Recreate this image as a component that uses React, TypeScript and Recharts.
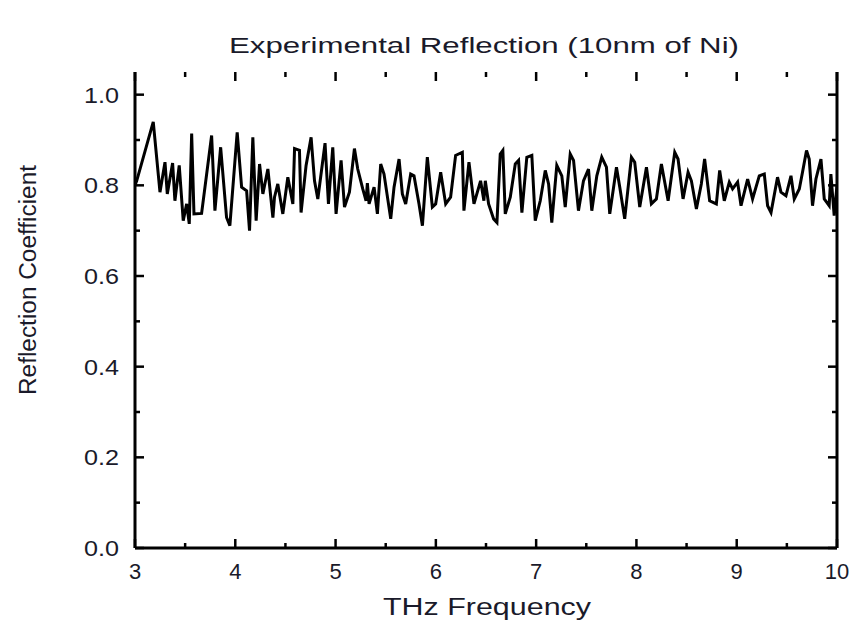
import React from "react";
import { LineChart, Line, XAxis, YAxis } from "recharts";

// turning points (THz, reflection coefficient)
const freq = [
  3.0, 3.017, 3.182, 3.249, 3.299, 3.322, 3.375, 3.398, 3.441, 3.481, 3.515, 3.541, 3.565, 3.588, 3.664,
  3.764, 3.797, 3.854, 3.913, 3.946, 4.019, 4.063, 4.113, 4.142, 4.175, 4.208, 4.242, 4.275, 4.325,
  4.375, 4.391, 4.424, 4.474, 4.524, 4.574, 4.591, 4.64, 4.656, 4.706, 4.756, 4.79, 4.823, 4.895,
  4.929, 4.972, 5.005, 5.055, 5.089, 5.138, 5.188, 5.221, 5.271, 5.304, 5.317, 5.334, 5.384, 5.417,
  5.45, 5.483, 5.55, 5.583, 5.633, 5.666, 5.699, 5.749, 5.782, 5.832, 5.866, 5.915, 5.965, 5.998,
  6.048, 6.098, 6.147, 6.197, 6.264, 6.28, 6.33, 6.38, 6.446, 6.479, 6.493, 6.526, 6.576, 6.609,
  6.642, 6.668, 6.692, 6.742, 6.792, 6.825, 6.858, 6.907, 6.957, 6.991, 7.041, 7.091, 7.124, 7.156,
  7.206, 7.256, 7.29, 7.34, 7.373, 7.422, 7.472, 7.522, 7.555, 7.605, 7.654, 7.701, 7.734, 7.801,
  7.834, 7.883, 7.95, 7.983, 8.033, 8.1, 8.149, 8.199, 8.249, 8.316, 8.382, 8.415, 8.465, 8.515,
  8.548, 8.598, 8.647, 8.68, 8.73, 8.797, 8.83, 8.876, 8.926, 8.959, 9.009, 9.043, 9.109, 9.158,
  9.225, 9.275, 9.308, 9.342, 9.407, 9.441, 9.491, 9.541, 9.574, 9.624, 9.656, 9.696, 9.723, 9.756,
  9.79, 9.84, 9.873, 9.922, 9.939, 9.972, 10.0,
];

const refl = [
  0.80, 0.81, 0.94, 0.785, 0.851, 0.781, 0.849, 0.766, 0.844, 0.722, 0.759, 0.715, 0.914, 0.737, 0.738,
  0.91, 0.744, 0.884, 0.729, 0.711, 0.917, 0.796, 0.788, 0.70, 0.906, 0.722, 0.847, 0.781, 0.836,
  0.729, 0.774, 0.803, 0.737, 0.818, 0.759, 0.881, 0.877, 0.74, 0.844, 0.906, 0.81, 0.77, 0.893,
  0.759, 0.884, 0.737, 0.855, 0.752, 0.785, 0.881, 0.836, 0.792, 0.766, 0.805, 0.759, 0.796, 0.737,
  0.847, 0.825, 0.726, 0.796, 0.858, 0.781, 0.759, 0.825, 0.821, 0.759, 0.711, 0.862, 0.752, 0.759,
  0.829, 0.759, 0.774, 0.866, 0.873, 0.744, 0.851, 0.759, 0.81, 0.766, 0.81, 0.759, 0.726, 0.718,
  0.869, 0.877, 0.737, 0.774, 0.847, 0.855, 0.74, 0.862, 0.866, 0.722, 0.766, 0.833, 0.803, 0.718,
  0.844, 0.821, 0.752, 0.869, 0.855, 0.744, 0.81, 0.836, 0.744, 0.821, 0.862, 0.84, 0.737, 0.84,
  0.796, 0.726, 0.862, 0.851, 0.752, 0.84, 0.759, 0.77, 0.847, 0.766, 0.873, 0.858, 0.77, 0.829,
  0.81, 0.748, 0.803, 0.858, 0.766, 0.759, 0.833, 0.766, 0.807, 0.792, 0.807, 0.755, 0.814, 0.77,
  0.821, 0.825, 0.755, 0.74, 0.818, 0.785, 0.777, 0.821, 0.77, 0.792, 0.829, 0.877, 0.858, 0.755,
  0.814, 0.858, 0.77, 0.755, 0.825, 0.733, 0.80,
];

const xTicks = [3, 3.5, 4, 4.5, 5, 5.5, 6, 6.5, 7, 7.5, 8, 8.5, 9, 9.5, 10];
const yTicks = [0, 0.1, 0.2, 0.3, 0.4, 0.5, 0.6, 0.7, 0.8, 0.9, 1.0];

const data = freq.map((f, i) => ({ freq: f, refl: refl[i] }));

const FONT = "'Liberation Sans', Arial, sans-serif";
const INK = "#1a1a2a";
const TOP = 72;
const PLOT_H = 476;
const isMajorY = (v: number) => Math.round(v * 10) % 2 === 0;

// bottom tick also draws its mirrored twin on the top frame edge
function BottomTick({ x, y, payload }: any) {
  const major = Number.isInteger(payload.value);
  const len = major ? 9 : 5;
  return (
    <g>
      <line x1={x} x2={x} y1={y} y2={y - len} stroke="#000" strokeWidth={2.5} />
      <line x1={x} x2={x} y1={y - PLOT_H} y2={y - PLOT_H + len} stroke="#000" strokeWidth={2.5} />
      {major && (
        <text x={x} y={y + 31} textAnchor="middle" fontSize={22} fontFamily={FONT} fill={INK}>
          {payload.value}
        </text>
      )}
    </g>
  );
}

function LeftTick({ x, y, payload }: any) {
  const major = isMajorY(payload.value);
  return (
    <g>
      <line x1={x} x2={x + (major ? 9 : 5)} y1={y} y2={y} stroke="#000" strokeWidth={2.5} />
      {major && (
        <text x={x - 16} y={y + 8} textAnchor="end" fontSize={22} fontFamily={FONT} fill={INK}
          textLength={35} lengthAdjust="spacingAndGlyphs">
          {payload.value.toFixed(1)}
        </text>
      )}
    </g>
  );
}

function RightTick({ x, y, payload }: any) {
  const major = isMajorY(payload.value);
  return <line x1={x} x2={x - (major ? 9 : 5)} y1={y} y2={y} stroke="#000" strokeWidth={2.5} />;
}

export default function App() {
  return (
    <div style={{ position: "absolute", left: 0, top: 0, width: 856, height: 626, background: "#fff" }}>
      <LineChart width={856} height={626} data={data} margin={{ top: TOP, right: 18, bottom: 0, left: 0 }}>
        <XAxis
          dataKey="freq"
          type="number"
          domain={[3, 10]}
          ticks={xTicks}
          allowDataOverflow
          height={78}
          tickSize={0}
          tickMargin={0}
          tick={<BottomTick />}
          axisLine={{ stroke: "#000", strokeWidth: 3 }}
          interval={0}
        />
        <XAxis
          xAxisId="top"
          dataKey="freq"
          orientation="top"
          type="number"
          domain={[3, 10]}
          allowDataOverflow
          height={0}
          tick={false}
          tickLine={false}
          axisLine={{ stroke: "#000", strokeWidth: 3 }}
        />
        <YAxis
          type="number"
          domain={[0, 1.05]}
          ticks={yTicks}
          allowDataOverflow
          width={135}
          tickSize={0}
          tickMargin={0}
          tick={<LeftTick />}
          axisLine={{ stroke: "#000", strokeWidth: 3 }}
          interval={0}
        />
        <YAxis
          yAxisId="right"
          orientation="right"
          type="number"
          domain={[0, 1.05]}
          ticks={yTicks}
          allowDataOverflow
          width={1}
          tickSize={0}
          tickMargin={0}
          tick={<RightTick />}
          axisLine={{ stroke: "#000", strokeWidth: 3 }}
          interval={0}
        />
        <Line
          type="linear"
          dataKey="refl"
          stroke="#000"
          strokeWidth={3}
          dot={false}
          isAnimationActive={false}
        />
      </LineChart>
      <svg width={856} height={626} style={{ position: "absolute", left: 0, top: 0, pointerEvents: "none" }}>
        <text x={484} y={53} textAnchor="middle" fontSize={22} fontFamily={FONT} fill={INK}
          textLength={510} lengthAdjust="spacingAndGlyphs">
          Experimental Reflection (10nm of Ni)
        </text>
        <text x={487} y={615} textAnchor="middle" fontSize={23} fontFamily={FONT} fill={INK}
          textLength={208} lengthAdjust="spacingAndGlyphs">
          THz Frequency
        </text>
        <text x={0} y={0} transform="translate(36 280) rotate(-90)" textAnchor="middle" fontSize={23}
          fontFamily={FONT} fill={INK} textLength={230} lengthAdjust="spacingAndGlyphs">
          Reflection Coefficient
        </text>
      </svg>
    </div>
  );
}
